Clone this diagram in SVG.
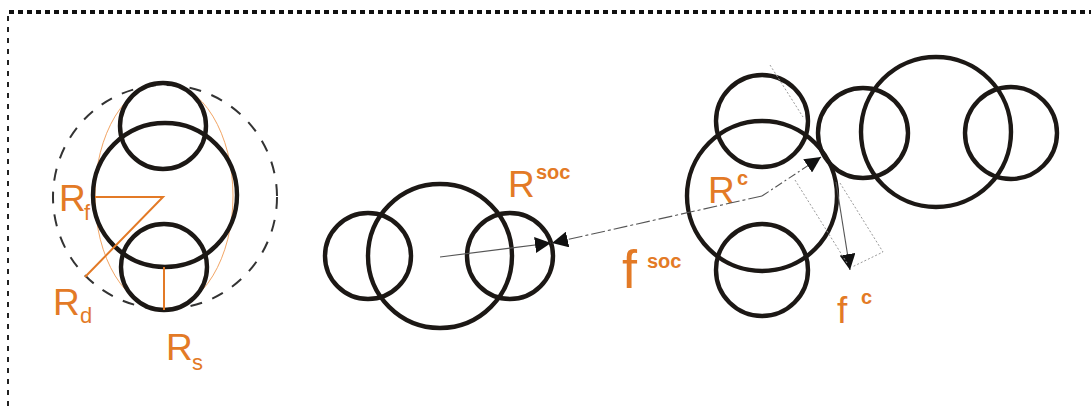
<svg xmlns="http://www.w3.org/2000/svg" width="1091" height="407" viewBox="0 0 1091 407">
  <style>
    .bead { fill: none; stroke: #1c1815; stroke-width: 4.4; }
    .lbl { fill: #e37a26; font-family: "Liberation Sans", Arial, sans-serif; }
    .big { font-size: 37px; }
    .sub { font-size: 22px; }
    .sup { font-size: 20px; font-weight: bold; }
    .rad { stroke: #e37a26; stroke-width: 2; fill: none; }
    .thin { stroke: #555; stroke-width: 1.1; fill: none; }
    .guide { stroke: #9a9a9a; stroke-width: 1; stroke-dasharray: 2 2; fill: none; }
  </style>
  <defs>
    <marker id="tip" markerUnits="userSpaceOnUse" markerWidth="17" markerHeight="16" refX="16" refY="8" orient="auto">
      <path d="M0,0 L16,8 L0,16 Z" fill="#111"/>
    </marker>
  </defs>

  <rect width="1091" height="407" fill="#fff"/>

  <!-- frame -->
  <g id="frame">
    <line x1="9" y1="12" x2="1091" y2="12" stroke="#111" stroke-width="4" stroke-dasharray="5 4"/>
    <line x1="8" y1="16" x2="8" y2="407" stroke="#222" stroke-width="2" stroke-dasharray="5 6"/>
  </g>

  <!-- molecule with its radii -->
  <g id="radii-molecule">
    <circle cx="165" cy="197" r="112" fill="none" stroke="#333" stroke-width="2" stroke-dasharray="12 11"/>
    <ellipse cx="164" cy="196" rx="69" ry="113" fill="none" stroke="#f2a565" stroke-width="1"/>
    <circle class="bead" cx="163" cy="126" r="43"/>
    <circle class="bead" cx="165" cy="195" r="72"/>
    <circle class="bead" cx="164" cy="267" r="43"/>
    <path class="rad" d="M95,197 H163 L85,277"/>
    <line class="rad" x1="164" y1="267" x2="164" y2="310"/>
    <text class="lbl big" x="59" y="211">R</text>
    <text class="lbl sub" x="84" y="220">f</text>
    <text class="lbl big" x="53" y="315">R</text>
    <text class="lbl sub" x="80" y="323">d</text>
    <text class="lbl big" x="166" y="360">R</text>
    <text class="lbl sub" x="192" y="370">s</text>
  </g>

  <!-- molecule receiving the social force -->
  <g id="molecule-a">
    <circle class="bead" cx="368" cy="256" r="43"/>
    <circle class="bead" cx="440" cy="256" r="72"/>
    <circle class="bead" cx="510" cy="256" r="43"/>
    <text class="lbl big" x="508" y="197">R</text>
    <text class="lbl sup" x="536" y="179">soc</text>
  </g>

  <!-- molecule in contact -->
  <g id="molecule-b">
    <circle class="bead" cx="762" cy="121" r="46"/>
    <circle class="bead" cx="762" cy="196" r="75"/>
    <circle class="bead" cx="762" cy="270" r="46"/>
    <text class="lbl big" x="708" y="203">R</text>
    <text class="lbl sup" x="737" y="185">c</text>
  </g>

  <g id="molecule-c">
    <circle class="bead" cx="863" cy="133" r="45"/>
    <circle class="bead" cx="936" cy="132" r="75"/>
    <circle class="bead" cx="1011" cy="133" r="46"/>
  </g>

  <!-- force labels -->
  <g id="force-labels">
    <text class="lbl" x="622" y="288" font-size="54">f</text>
    <text class="lbl sup" x="647" y="268">soc</text>
    <text class="lbl" x="837" y="323" font-size="37">f</text>
    <text class="lbl sup" x="861" y="304">c</text>
  </g>

  <g id="connectors">
    <line class="thin" x1="440" y1="257" x2="551" y2="243" marker-end="url(#tip)"/>
    <line class="thin" x1="762" y1="196" x2="552" y2="243" stroke-dasharray="14 3 3 3" marker-end="url(#tip)"/>
    <line class="thin" x1="762" y1="196" x2="821" y2="157" stroke="#777" stroke-dasharray="8 3 2 3" marker-end="url(#tip)"/>
    <line class="thin" x1="836" y1="182" x2="850" y2="270" stroke="#666" marker-end="url(#tip)"/>
    <line class="guide" x1="770" y1="65" x2="803" y2="117"/>
    <line class="guide" x1="795" y1="180" x2="847" y2="263"/>
    <polyline class="guide" points="840,183 883,252 852,267"/>
  </g>
</svg>
